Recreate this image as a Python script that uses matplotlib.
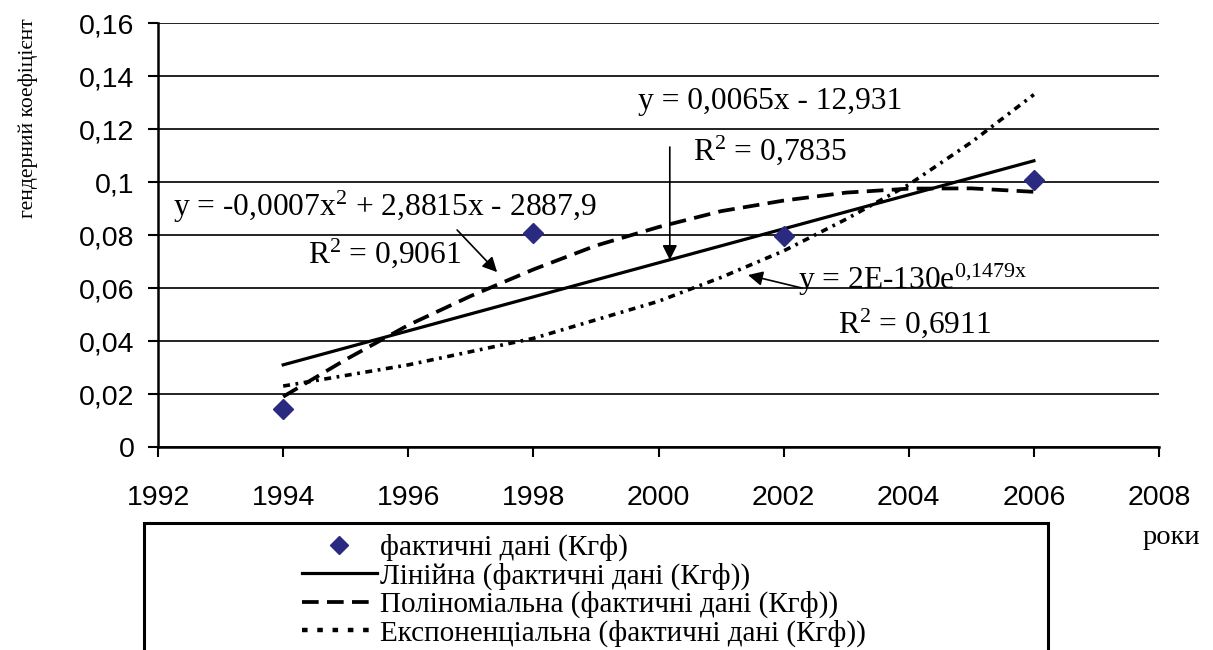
import numpy as np
import matplotlib
matplotlib.use("Agg")
import matplotlib.pyplot as plt
import matplotlib.patches as mpatches
from matplotlib.lines import Line2D

# ── Data ──────────────────────────────────────────────────────────────────────
years = [1994, 1998, 2002, 2006]
kgf = [0.0143, 0.0808, 0.0796, 0.1008]

linear_years = [1994, 2006]
linear_vals = [0.031, 0.108]

trend_years = [1994, 1995, 1996, 1997, 1998, 1999, 2000,
               2001, 2002, 2003, 2004, 2005, 2006]
poly_vals = [0.019, 0.033, 0.046, 0.057, 0.067, 0.076, 0.083,
             0.089, 0.093, 0.096, 0.0975, 0.0976, 0.0963]
exp_vals = [0.023, 0.027, 0.031, 0.036, 0.041, 0.048, 0.055,
            0.064, 0.074, 0.086, 0.099, 0.115, 0.133]

x_ticks = [1992, 1994, 1996, 1998, 2000, 2002, 2004, 2006, 2008]
y_ticks = [0, 0.02, 0.04, 0.06, 0.08, 0.10, 0.12, 0.14, 0.16]
y_tick_labels = ["0", "0,02", "0,04", "0,06", "0,08", "0,1", "0,12", "0,14", "0,16"]

legend_labels = [
    "фактичні дані (Кгф)",
    "Лінійна (фактичні дані (Кгф))",
    "Поліноміальна (фактичні дані (Кгф))",
    "Експоненціальна (фактичні дані (Кгф))",
]

# ── Style ─────────────────────────────────────────────────────────────────────
plt.rcParams["font.family"] = ["Liberation Serif", "DejaVu Serif"]
plt.rcParams["mathtext.fontset"] = "custom"
plt.rcParams["mathtext.rm"] = "Liberation Serif"
plt.rcParams["mathtext.it"] = "Liberation Serif:italic"
plt.rcParams["lines.scale_dashes"] = False

_POINT_COLOR = "#2a2a80"
_POLY_DASH = (0, (12, 6))
_EXP_DASH = (0, (5, 4, 2, 4))
_SANS = ["Liberation Sans", "DejaVu Sans"]

fig = plt.figure(figsize=(12.13, 6.5), dpi=100)
ax = fig.add_axes([0.1303, 0.3123, 0.8252, 0.6523])

ax.set_xlim(1992, 2008)
ax.set_ylim(0, 0.16)
ax.set_xticks(x_ticks)
ax.set_xticklabels([str(y) for y in x_ticks], family=_SANS, fontsize=20.5)
ax.set_yticks(y_ticks)
ax.set_yticklabels(y_tick_labels, family=_SANS, fontsize=20.5)
ax.tick_params(axis="both", direction="out", length=7, width=1.5, color="black")
ax.tick_params(axis="x", pad=20)
ax.tick_params(axis="y", pad=10)

ax.yaxis.grid(True, color="#222222", lw=1.4)
ax.set_axisbelow(True)
for side in ("top", "right"):
    ax.spines[side].set_visible(False)
for side in ("left", "bottom"):
    ax.spines[side].set_linewidth(1.8)

# ── Series ────────────────────────────────────────────────────────────────────
ax.plot(linear_years, linear_vals, color="black", lw=2.3, zorder=3)
ax.plot(trend_years, poly_vals, color="black", lw=2.7, ls=_POLY_DASH, zorder=3)
ax.plot(trend_years, exp_vals, color="black", lw=2.6, ls=_EXP_DASH, zorder=3)
ax.plot(years, kgf, "D", color=_POINT_COLOR, markersize=10, zorder=4, ls="none")

# ── Trend equations ───────────────────────────────────────────────────────────
tkw = dict(fontsize=22.7, ha="left", va="center", zorder=5)
ax.text(1999.67, 0.1302, "y = 0,0065x - 12,931", **tkw)
ax.text(2000.55, 0.1121, "R$^{2}$ = 0,7835", **tkw)
ax.text(1992.24, 0.0906, "y = -0,0007x$^{2}$ + 2,8815x - 2887,9", **tkw)
ax.text(1994.40, 0.0732, "R$^{2}$ = 0,9061", **tkw)
ax.text(2002.23, 0.0630, r"y = 2E-130e$^{\mathrm{0{,}1479x}}$", **tkw)
ax.text(2002.87, 0.0468, "R$^{2}$ = 0,6911", **tkw)

arrow = dict(arrowstyle="-|>", color="black", lw=1.2, mutation_scale=22,
             shrinkA=0, shrinkB=0)
ax.annotate("", xy=(2000.18, 0.0706), xytext=(2000.18, 0.1132), arrowprops=arrow)
ax.annotate("", xy=(1997.42, 0.0660), xytext=(1996.78, 0.0819), arrowprops=arrow)
ax.annotate("", xy=(2001.43, 0.0649), xytext=(2002.29, 0.0600), arrowprops=arrow)

# ── Axis titles ───────────────────────────────────────────────────────────────
fig.text(28 / 1213, 1 - 118 / 650, "гендерний коефіцієнт", rotation=90,
         ha="center", va="center", fontsize=15.5)
fig.text(1143 / 1213, 1 - 538 / 650, "роки", ha="left", va="center", fontsize=20.5)

# ── Legend (box runs off the bottom edge, as in the source) ──────────────────
fig.patches.append(mpatches.Rectangle(
    (144 / 1213, -0.1), (1048 - 144) / 1213, 0.1 + (1 - 523 / 650),
    transform=fig.transFigure, fill=False, edgecolor="black", lw=2.2,
))
handles = [
    Line2D([], [], marker="D", color=_POINT_COLOR, ls="none", markersize=9),
    Line2D([], [], color="black", lw=2.3),
    Line2D([], [], color="black", lw=2.7, ls=_POLY_DASH),
    Line2D([], [], color="black", lw=3.2, ls=(0, (4, 7))),
]
fig.legend(handles, legend_labels, loc="upper left",
           bbox_to_anchor=(302 / 1213, 1 - 534 / 650),
           frameon=False, fontsize=21, handlelength=2.57, handletextpad=0.1,
           labelspacing=0.04, borderpad=0, borderaxespad=0)

fig.savefig("out.png", dpi=100)
